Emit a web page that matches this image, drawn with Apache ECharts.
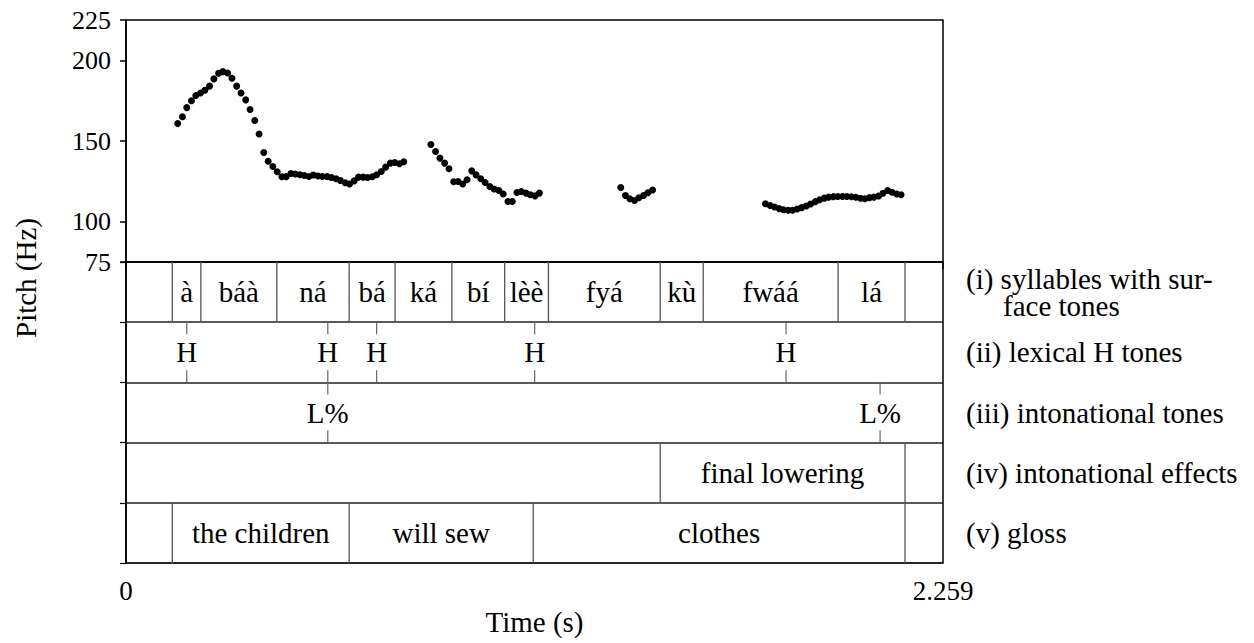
<!DOCTYPE html>
<html><head><meta charset="utf-8">
<script src="https://cdn.jsdelivr.net/npm/echarts@6/dist/echarts.min.js"></script>
<style>html,body{margin:0;padding:0;background:#fff}#c{width:1254px;height:643px}</style>
</head><body><div id="c"></div>
<script>
const FONT = 'Liberation Serif, Times New Roman, serif';
const FONT29 = '29px Liberation Serif, Times New Roman, serif';

// ---- axes ----
const timeMin = 0;
const timeMax = 2.259;
const timeTicks = [0, 2.259];
const pitchMin = 75;
const pitchMax = 225;
const pitchTicks = [75, 100, 150, 200, 225];

// ---- pitch track ----
const seg1Times = [0.143,0.156,0.168,0.181,0.193,0.206,0.218,0.231,0.243,0.256,0.268,0.281,0.293,0.306,0.318,0.331,0.343,0.356,0.368,0.381,0.393,0.406,0.418,0.431,0.443,0.456,0.468,0.481,0.493,0.506,0.518,0.531,0.543,0.556,0.568,0.581,0.593,0.606,0.618,0.631,0.643,0.656,0.668,0.681,0.693,0.706,0.718,0.731,0.743,0.756,0.768];
const seg1Hz = [160.8,165.0,170.7,175.0,178.2,179.8,181.5,184.0,188.5,192.0,193.0,192.2,188.9,184.0,179.8,175.5,169.5,162.7,154.3,142.9,137.5,134.2,130.9,127.8,127.9,129.9,129.5,129.1,128.6,128.0,128.9,128.3,128.0,128.0,127.4,126.6,125.5,124.1,123.3,125.3,127.6,127.6,127.4,127.8,129.1,131.1,133.8,136.3,136.7,135.9,137.1];
const seg2Times = [0.843,0.856,0.868,0.881,0.893,0.906,0.918,0.931,0.943,0.956,0.968,0.981,0.993,1.006,1.018,1.031,1.043,1.056,1.068,1.081,1.093,1.106,1.118,1.131,1.143];
const seg2Hz = [147.8,143.5,139.4,136.3,132.8,124.7,124.9,123.3,126.0,131.5,129.0,126.6,124.3,121.8,120.2,119.3,117.1,112.5,112.5,118.1,118.7,117.7,116.7,116.0,117.7];
const seg3Times = [1.368,1.381,1.393,1.406,1.418,1.431,1.443,1.456];
const seg3Hz = [121.2,116.2,114.2,113.1,114.8,116.2,117.9,119.6];
const seg4Times = [1.768,1.781,1.793,1.806,1.818,1.831,1.843,1.856,1.868,1.881,1.893,1.906,1.918,1.931,1.943,1.956,1.968,1.981,1.993,2.006,2.018,2.031,2.043,2.056,2.068,2.081,2.093,2.106,2.118,2.131,2.143];
const seg4Hz = [111.1,110.0,109.1,108.1,107.4,107.1,107.1,107.8,108.7,109.7,110.9,112.4,113.6,114.6,115.2,115.5,115.6,115.6,115.6,115.4,115.1,114.5,114.2,114.9,115.2,115.9,117.6,119.3,118.2,117.2,116.7];

// ---- annotation tiers ----
const tierNames = ["(i) syllables with sur-\nface tones", "(ii) lexical H tones", "(iii) intonational tones", "(iv) intonational effects", "(v) gloss"];
const syllableBounds = [0.128, 0.207, 0.417, 0.617, 0.744, 0.901, 1.047, 1.168, 1.477, 1.596, 1.969, 2.154];
const syllableLabels = ["à", "báà", "ná", "bá", "ká", "bí", "lèè", "fyá", "kù", "fwáá", "lá"];
const lexicalHTimes = [0.168, 0.558, 0.693, 1.130, 1.825];
const lexicalHLabels = ["H", "H", "H", "H", "H"];
const intonTimes = [0.558, 2.085];
const intonLabels = ["L%", "L%"];
const effectBounds = [1.477, 2.154];
const effectLabels = ["final lowering"];
const glossBounds = [0.128, 0.617, 1.126, 2.154];
const glossLabels = ["the children", "will sew", "clothes"];

function zip(a, b) { return a.map((v, i) => [v, b[i]]); }
const pitchData = [].concat(zip(seg1Times, seg1Hz), zip(seg2Times, seg2Hz), zip(seg3Times, seg3Hz), zip(seg4Times, seg4Hz));

function txtStyle(text) {
  return { text: text, fill: '#000', font: FONT29, fontFamily: FONT, fontSize: 29, align: 'center', verticalAlign: 'middle' };
}

function boundarySeries(bounds, tier) {
  return {
    type: 'custom', xAxisIndex: 1, yAxisIndex: 1, silent: true,
    data: bounds.map(t => [t, tier]),
    renderItem(params, api) {
      const t = api.value(0), r = api.value(1);
      const a = api.coord([t, r]), b = api.coord([t, r + 1]);
      return { type: 'line', shape: { x1: a[0], y1: a[1], x2: b[0], y2: b[1] }, style: { stroke: '#555', lineWidth: 1.3 } };
    }
  };
}
function intervalLabelSeries(bounds, labels, tier) {
  return {
    type: 'custom', xAxisIndex: 1, yAxisIndex: 1, silent: true,
    data: labels.map((s, i) => [bounds[i], bounds[i + 1], tier]),
    renderItem(params, api) {
      const t0 = api.value(0), t1 = api.value(1), r = api.value(2);
      const c = api.coord([(t0 + t1) / 2, r + 0.5]);
      return { type: 'text', x: c[0], y: c[1], style: txtStyle(labels[params.dataIndex]) };
    }
  };
}
function pointSeries(times, labels, tier) {
  return {
    type: 'custom', xAxisIndex: 1, yAxisIndex: 1, silent: true,
    data: times.map(t => [t, tier]),
    renderItem(params, api) {
      const t = api.value(0), r = api.value(1);
      const top = api.coord([t, r]), topEnd = api.coord([t, r + 0.2]);
      const bot = api.coord([t, r + 1]), botStart = api.coord([t, r + 0.8]);
      const mid = api.coord([t, r + 0.5]);
      const ls = { stroke: '#666', lineWidth: 1.2 };
      return { type: 'group', children: [
        { type: 'line', shape: { x1: top[0], y1: top[1], x2: topEnd[0], y2: topEnd[1] }, style: ls },
        { type: 'line', shape: { x1: botStart[0], y1: botStart[1], x2: bot[0], y2: bot[1] }, style: ls },
        { type: 'text', x: mid[0], y: mid[1], style: txtStyle(labels[params.dataIndex]) }
      ] };
    }
  };
}

const chart = echarts.init(document.getElementById('c'), null, { renderer: 'svg' });
chart.setOption({
  backgroundColor: '#fff',
  animation: false,
  textStyle: { fontFamily: FONT },
  grid: [
    { left: 126, top: 20, width: 817, height: 242, show: true, borderColor: '#000', borderWidth: 1.5, backgroundColor: 'transparent' },
    { left: 126, top: 262, width: 817, height: 301, show: true, borderColor: '#000', borderWidth: 1.5, backgroundColor: 'transparent' }
  ],
  xAxis: [
    { type: 'value', gridIndex: 0, min: timeMin, max: timeMax, show: false },
    { type: 'value', gridIndex: 1, min: timeMin, max: timeMax, position: 'bottom',
      axisLine: { show: true, lineStyle: { color: '#000', width: 1.5 } },
      axisTick: { show: true, length: 7, customValues: timeTicks, lineStyle: { color: '#000', width: 1.5 } },
      axisLabel: { show: true, customValues: timeTicks, margin: 14, color: '#000', fontFamily: FONT, fontSize: 27, formatter: v => String(v) },
      splitLine: { show: false },
      name: 'Time (s)', nameLocation: 'middle', nameGap: 44,
      nameTextStyle: { color: '#000', fontFamily: FONT, fontSize: 29 } }
  ],
  yAxis: [
    { type: 'value', gridIndex: 0, min: pitchMin, max: pitchMax, position: 'left',
      axisLine: { show: true, lineStyle: { color: '#000', width: 1.5 } },
      axisTick: { show: true, length: 6, customValues: pitchTicks, lineStyle: { color: '#000', width: 1.5 } },
      axisLabel: { show: true, customValues: pitchTicks, margin: 15, color: '#000', fontFamily: FONT, fontSize: 26 },
      splitLine: { show: false } },
    { type: 'value', gridIndex: 1, min: 0, max: 5, interval: 1, inverse: true, position: 'left',
      axisLine: { show: true, lineStyle: { color: '#000', width: 1.5 } },
      axisTick: { show: true, length: 6, lineStyle: { color: '#000', width: 1.2 } },
      axisLabel: { show: false },
      splitLine: { show: true, lineStyle: { color: '#222', width: 1.5 } } },
    { type: 'category', gridIndex: 1, data: tierNames, inverse: true, position: 'right',
      axisLine: { show: false }, axisTick: { show: false }, splitLine: { show: false },
      axisLabel: { show: true, margin: 23, color: '#000', fontFamily: FONT, fontSize: 29, align: 'left', lineHeight: 27,
        formatter: (v) => {
          const parts = v.split('\n');
          return parts.map((p, i) => (i === 0 ? '{a|' : '{ind|') + p + '}').join('\n');
        },
        rich: {
          a: { fontFamily: FONT, fontSize: 29, color: '#000', lineHeight: 27 },
          ind: { padding: [0, 0, 0, 37], fontFamily: FONT, fontSize: 29, color: '#000', lineHeight: 27 }
        } } }
  ],
  graphic: [
    { type: 'text', x: 26, y: 278, rotation: Math.PI / 2, style: { text: 'Pitch (Hz)', fill: '#000', font: FONT29, fontFamily: FONT, fontSize: 29, align: 'center', verticalAlign: 'middle' } }
  ],
  series: [
    { type: 'scatter', xAxisIndex: 0, yAxisIndex: 0, data: pitchData, symbol: 'circle', symbolSize: 7, itemStyle: { color: '#000', opacity: 1 }, silent: true },
    boundarySeries(syllableBounds, 0),
    intervalLabelSeries(syllableBounds, syllableLabels, 0),
    pointSeries(lexicalHTimes, lexicalHLabels, 1),
    pointSeries(intonTimes, intonLabels, 2),
    boundarySeries(effectBounds, 3),
    intervalLabelSeries(effectBounds, effectLabels, 3),
    boundarySeries(glossBounds, 4),
    intervalLabelSeries(glossBounds, glossLabels, 4)
  ]
});
</script></body></html>
